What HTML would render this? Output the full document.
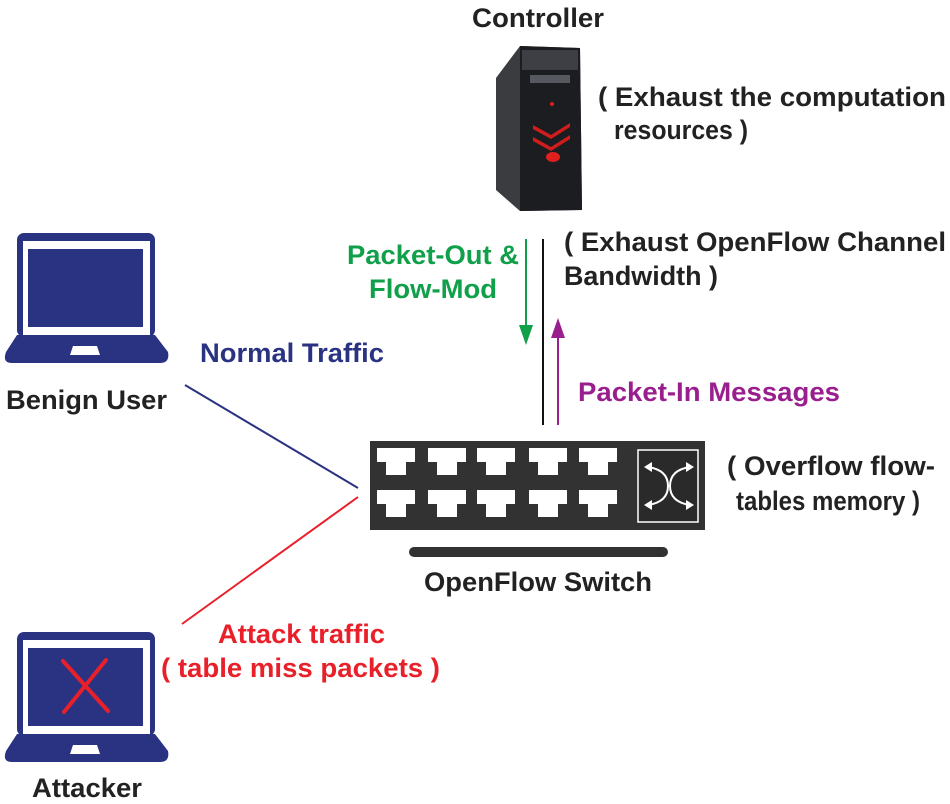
<!DOCTYPE html>
<html><head><style>
html,body{margin:0;padding:0;background:#fff;}
svg{display:block;}
text{font-family:"Liberation Sans",Arial,sans-serif;font-weight:bold;font-size:27px;}
</style></head><body>
<svg width="950" height="804" viewBox="0 0 950 804" xmlns="http://www.w3.org/2000/svg">
<defs>
<g id="laptop">
  <rect x="17" y="233" width="138" height="104" rx="7" fill="#2a3282"/>
  <rect x="23" y="241" width="127" height="94" fill="#fff"/>
  <rect x="28" y="249" width="115" height="78" fill="#2a3282"/>
  <path d="M17 335 L155 335 L168 352 Q170 363 160 363 L12 363 Q2 363 6 352 Z" fill="#2a3282"/>
  <path d="M73 346 L97 346 L100 355 L70 355 Z" fill="#fff"/>
</g>
<g id="port">
  <path d="M0 0 h38 v14 h-9 v13 h-20 v-13 h-9 z" fill="#fff"/>
</g>
</defs>

<!-- Controller -->
<text x="472" y="27" textLength="132" lengthAdjust="spacingAndGlyphs" fill="#222">Controller</text>
<g>
  <path d="M496 78 L520 46 L580 48 L582 210 L520 211 L496 190 Z" fill="#3a3c40"/>
  <path d="M520 46 L580 48 L582 210 L520 211 Z" fill="#1c1d20"/>
  <rect x="522" y="50" width="56" height="20" fill="#3d3f44"/>
  <rect x="530" y="75" width="40" height="8" fill="#55585e"/>
  <path d="M533 125 L551 135 L570 123 L570 127 L551 139 L533 129 Z" fill="#d11c1c"/>
  <path d="M533 137 L551 147 L570 135 L570 139 L551 151 L533 141 Z" fill="#d11c1c"/>
  <ellipse cx="553" cy="157" rx="7" ry="5" fill="#e0201f"/>
  <circle cx="552" cy="104" r="2" fill="#e0201f"/>
</g>
<text x="598" y="106" textLength="348" lengthAdjust="spacingAndGlyphs" fill="#222">( Exhaust the computation</text>
<text x="614" y="139" textLength="134" lengthAdjust="spacingAndGlyphs" fill="#222">resources )</text>

<!-- channel -->
<line x1="543" y1="239" x2="543" y2="425" stroke="#111" stroke-width="2"/>
<line x1="526" y1="239" x2="526" y2="328" stroke="#10a04a" stroke-width="2"/>
<path d="M519 325 L533 325 L526 345 Z" fill="#10a04a"/>
<line x1="558" y1="336" x2="558" y2="425" stroke="#9a1f8e" stroke-width="2"/>
<path d="M551 338 L565 338 L558 318 Z" fill="#9a1f8e"/>
<text x="347" y="264" textLength="172" lengthAdjust="spacingAndGlyphs" fill="#10a04a">Packet-Out &amp;</text>
<text x="369" y="298" textLength="128" lengthAdjust="spacingAndGlyphs" fill="#10a04a">Flow-Mod</text>
<text x="564" y="251" textLength="382" lengthAdjust="spacingAndGlyphs" fill="#222">( Exhaust OpenFlow Channel</text>
<text x="564" y="285" textLength="154" lengthAdjust="spacingAndGlyphs" fill="#222">Bandwidth )</text>
<text x="578" y="401" textLength="262" lengthAdjust="spacingAndGlyphs" fill="#9a1f8e">Packet-In Messages</text>

<!-- switch -->
<rect x="370" y="441" width="335" height="89" fill="#323232"/>
<use href="#port" x="377" y="448"/><use href="#port" x="428" y="448"/><use href="#port" x="477" y="448"/><use href="#port" x="529" y="448"/><use href="#port" x="579" y="448"/>
<use href="#port" x="377" y="490"/><use href="#port" x="428" y="490"/><use href="#port" x="477" y="490"/><use href="#port" x="529" y="490"/><use href="#port" x="579" y="490"/>
<rect x="638" y="450" width="60" height="72" fill="#2a2a2a" stroke="#fff" stroke-width="1.5"/>
<g stroke="#fff" stroke-width="2" fill="none">
<path d="M648 467 Q668 470 668 486 Q668 502 648 505"/>
<path d="M690 467 Q670 470 670 486 Q670 502 690 505"/>
</g>
<g fill="#fff">
<path d="M644 467 L652 462 L652 472 Z"/><path d="M694 467 L686 462 L686 472 Z"/>
<path d="M644 505 L652 500 L652 510 Z"/><path d="M694 505 L686 500 L686 510 Z"/>
</g>
<rect x="409" y="547" width="259" height="10" rx="5" fill="#323232"/>
<text x="424" y="591" textLength="228" lengthAdjust="spacingAndGlyphs" fill="#222">OpenFlow Switch</text>
<text x="727" y="475" textLength="208" lengthAdjust="spacingAndGlyphs" fill="#222">( Overflow flow-</text>
<text x="736" y="510" textLength="184" lengthAdjust="spacingAndGlyphs" fill="#222">tables memory )</text>

<!-- lines -->
<line x1="185" y1="385" x2="358" y2="488" stroke="#2a3282" stroke-width="2"/>
<line x1="182" y1="624" x2="358" y2="497" stroke="#e8202a" stroke-width="2"/>
<text x="200" y="362" textLength="184" lengthAdjust="spacingAndGlyphs" fill="#2a3282">Normal Traffic</text>
<text x="218" y="643" textLength="167" lengthAdjust="spacingAndGlyphs" fill="#e8202a">Attack traffic</text>
<text x="161" y="677" textLength="279" lengthAdjust="spacingAndGlyphs" fill="#e8202a">( table miss packets )</text>

<!-- laptops -->
<use href="#laptop"/>
<text x="6" y="409" textLength="161" lengthAdjust="spacingAndGlyphs" fill="#222">Benign User</text>
<use href="#laptop" y="399"/>
<g stroke="#e8202a" stroke-width="4" stroke-linecap="round">
<line x1="63" y1="661" x2="108" y2="711"/><line x1="106" y1="660" x2="64" y2="712"/>
</g>
<text x="32" y="797" textLength="110" lengthAdjust="spacingAndGlyphs" fill="#222">Attacker</text>
</svg>
</body></html>
